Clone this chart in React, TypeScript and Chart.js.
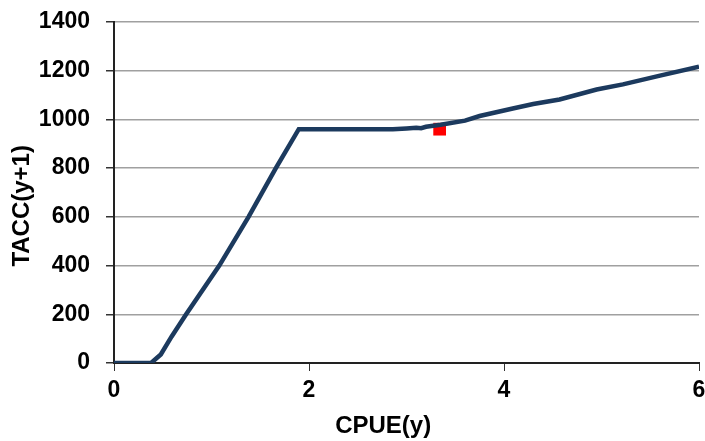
import React, { useEffect, useRef } from "react";
import { Chart, registerables } from "chart.js";

Chart.register(...registerables);

const cpue = [0, 0.38, 0.48, 0.59, 0.74, 1.08, 1.38, 1.66, 1.895, 2.86, 3.0, 3.1, 3.15, 3.2, 3.35, 3.6, 3.75, 4.09, 4.3, 4.57, 4.95, 5.22, 5.6, 6.0];
const tacc = [0, 0, 35, 108, 200, 400, 600, 800, 960, 960, 963, 966, 964, 970, 978, 995, 1014, 1045, 1063, 1082, 1123, 1144, 1180, 1217];
const markerX = [3.34];
const markerY = [960];
const xTicks = [0, 2, 4, 6];
const yTicks = [0, 200, 400, 600, 800, 1000, 1200, 1400];

const FONT = "'Liberation Sans', Arial, sans-serif";

export default function App() {
  const ref = useRef<HTMLCanvasElement | null>(null);

  useEffect(() => {
    document.body.style.margin = "0";
    const canvas = ref.current;
    if (!canvas) return;
    const chart = new Chart(canvas, {
      type: "line",
      data: {
        datasets: [
          {
            data: cpue.map((x, i) => ({ x, y: tacc[i] })),
            borderColor: "#1c3a5e",
            borderWidth: 4.5,
            pointRadius: 0,
            tension: 0,
            fill: false,
          },
          {
            type: "scatter",
            data: markerX.map((x, i) => ({ x, y: markerY[i] })),
            pointStyle: "rect",
            pointRadius: 9,
            pointBorderWidth: 0,
            backgroundColor: "#ff0000",
            borderColor: "#ff0000",
          },
        ],
      },
      options: {
        animation: false,
        responsive: false,
        maintainAspectRatio: false,
        layout: { autoPadding: false, padding: { top: 22, right: 6, left: 0, bottom: 0 } },
        plugins: { legend: { display: false }, tooltip: { enabled: false } },
        scales: {
          x: {
            type: "linear",
            min: 0,
            max: 6,
            afterBuildTicks: (scale: any) => {
              scale.ticks = xTicks.map((v) => ({ value: v }));
            },
            afterFit: (scale: any) => {
              scale.height = 78;
              scale.paddingLeft = 0;
              scale.paddingRight = 0;
            },
            ticks: {
              color: "#000",
              font: { family: FONT, size: 23, weight: "bold" },
              padding: 6,
              maxRotation: 0,
              callback: (v: any) => String(v),
            },
            grid: {
              drawOnChartArea: false,
              drawTicks: true,
              tickLength: 8,
              tickColor: "#333",
            },
            border: { display: true, color: "#222", width: 2 },
            title: {
              display: true,
              text: "CPUE(y)       ",
              color: "#000",
              font: { family: FONT, size: 24, weight: "bold" },
              padding: { top: 0, bottom: 0 },
            },
          },
          y: {
            type: "linear",
            min: 0,
            max: 1400,
            afterBuildTicks: (scale: any) => {
              scale.ticks = yTicks.map((v) => ({ value: v }));
            },
            afterFit: (scale: any) => {
              scale.width = 114;
              scale.paddingTop = 0;
              scale.paddingBottom = 0;
            },
            ticks: {
              color: "#000",
              font: { family: FONT, size: 23, weight: "bold" },
              padding: 16,
              callback: (v: any) => String(v),
            },
            grid: {
              color: "#a0a0a0",
              lineWidth: 1.5,
              drawTicks: true,
              tickLength: 8,
              tickColor: "#333",
            },
            border: { display: true, color: "#222", width: 2 },
            title: {
              display: true,
              text: "TACC(y+1)    ",
              color: "#000",
              font: { family: FONT, size: 24, weight: "bold" },
              padding: { top: 8, bottom: 0 },
            },
          },
        },
      },
    });
    return () => chart.destroy();
  }, []);

  return <canvas ref={ref} width={705} height={441} style={{ display: "block" }} />;
}
